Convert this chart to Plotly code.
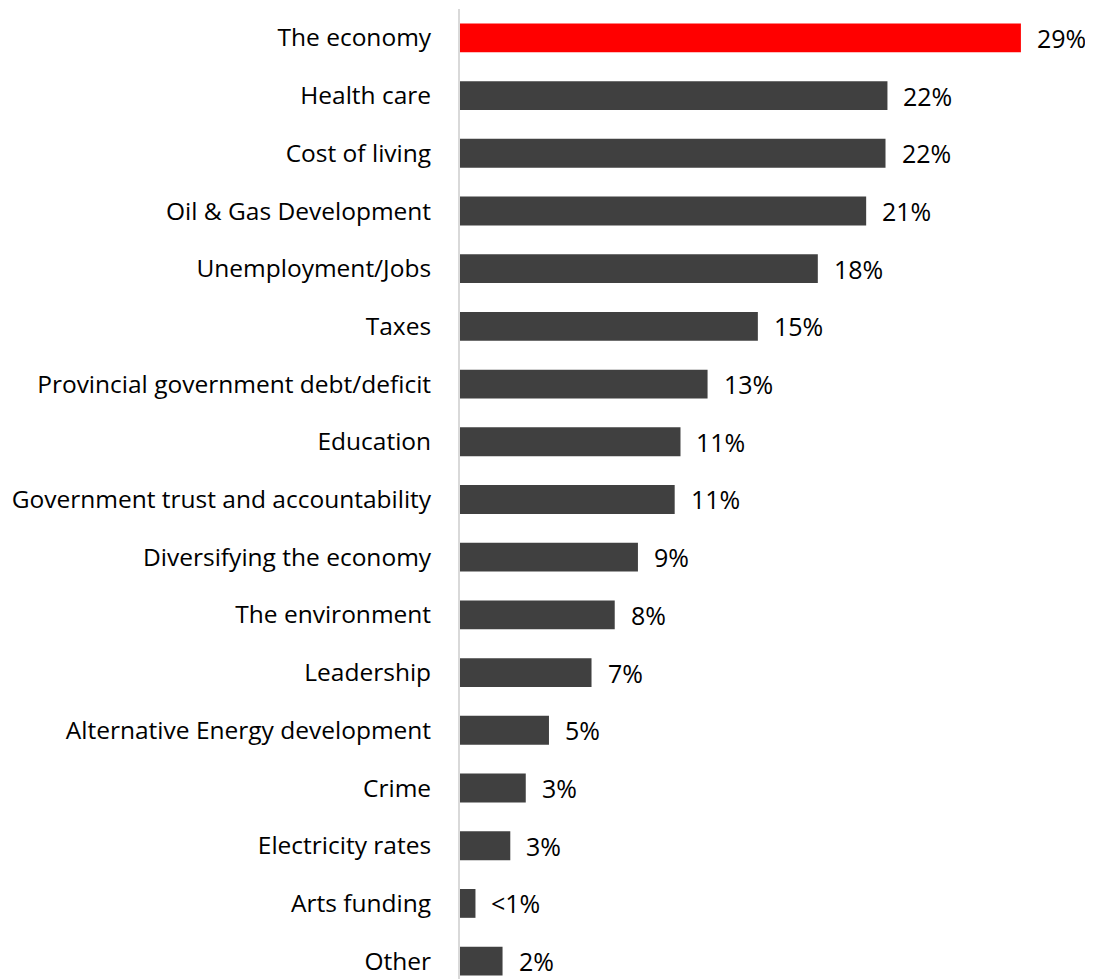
import plotly.graph_objects as go

categories = ["The economy", "Health care", "Cost of living", "Oil & Gas Development",
              "Unemployment/Jobs", "Taxes", "Provincial government debt/deficit", "Education",
              "Government trust and accountability", "Diversifying the economy",
              "The environment", "Leadership", "Alternative Energy development", "Crime",
              "Electricity rates", "Arts funding", "Other"]
values = [29.0, 22.1, 22.0, 21.0, 18.5, 15.4, 12.8, 11.4, 11.1, 9.2, 8.0, 6.8, 4.6, 3.4, 2.6, 0.8, 2.2]
labels = ["29%", "22%", "22%", "21%", "18%", "15%", "13%", "11%", "11%", "9%", "8%", "7%",
          "5%", "3%", "3%", "<1%", "2%"]
colors = ["#FF0000"] + ["#404040"] * (len(categories) - 1)

FONT = "Open Sans"

fig = go.Figure(go.Bar(
    x=values, y=categories, orientation="h",
    marker=dict(color=colors, line=dict(width=0)),
    hoverinfo="skip",
))

for c, v, t in zip(categories, values, labels):
    fig.add_annotation(x=v, y=c, text=t, showarrow=False, xanchor="left", yanchor="middle",
                       xshift=14, font=dict(family=FONT, size=25, color="#000000"))

# the page body has an 8px margin; the figure is sized/placed to compensate
fig.update_layout(
    width=1085, height=971,
    margin=dict(l=452, r=22, t=1, b=0),
    paper_bgcolor="white", plot_bgcolor="white",
    bargap=0.5,
    showlegend=False,
    xaxis=dict(range=[0, 31.59], visible=False, showgrid=False, zeroline=False),
    yaxis=dict(type="category", categoryorder="array", categoryarray=categories,
               range=[16.31, -0.5], showline=True, linecolor="#d9d9d9", linewidth=2,
               showgrid=False, zeroline=False, ticks="", ticklabelstandoff=22,
               tickfont=dict(family=FONT, size=24.5, color="#000000")),
)

fig.write_html("out.html")
